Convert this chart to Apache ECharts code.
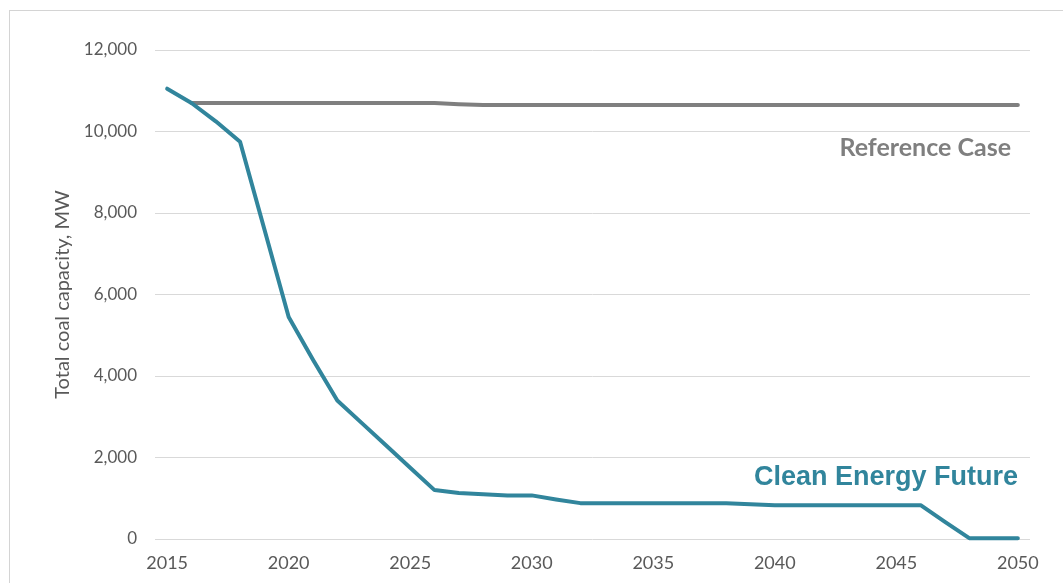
<!DOCTYPE html>
<html>
<head>
<meta charset="utf-8">
<script src="https://cdn.jsdelivr.net/npm/echarts@6/dist/echarts.min.js"></script>
<style>
  html, body { margin: 0; padding: 0; background: #ffffff; }
  #frame { position: absolute; left: 9px; top: 10px; width: 1054px; height: 573px;
           border-left: 1px solid #d4d4d4; border-top: 1px solid #d4d4d4; box-sizing: border-box; }
  #chart { position: absolute; left: 0; top: 0; width: 1063px; height: 583px; }
</style>
</head>
<body>
<div id="frame"></div>
<div id="chart"></div>
<script>
// Years on the horizontal axis
const years = [];
for (let y = 2015; y <= 2050; y++) years.push(String(y));

// Total coal capacity (MW), Clean Energy Future scenario
const cleanEnergyFuture = [
  11050, 10700, 10250, 9750, 7600, 5450, 4400, 3400, 2850, 2300,
  1750, 1200, 1130, 1100, 1070, 1070, 970, 880, 880, 880,
  880, 880, 880, 880, 850, 830, 830, 830, 830, 830,
  830, 830, 420, 20, 20, 20
];

// Total coal capacity (MW), Reference Case
const referenceCase = [
  null, 10700, 10700, 10700, 10700, 10700, 10700, 10700, 10700, 10700,
  10700, 10700, 10670, 10650, 10650, 10650, 10650, 10650, 10650, 10650,
  10650, 10650, 10650, 10650, 10650, 10650, 10650, 10650, 10650, 10650,
  10650, 10650, 10650, 10650, 10650, 10650
];

const yTicks = [0, 2000, 4000, 6000, 8000, 10000, 12000];

const chart = echarts.init(document.getElementById('chart'), null, { renderer: 'canvas' });

chart.setOption({
  backgroundColor: 'transparent',
  animation: false,
  grid: { left: 155, right: 33, top: 50, bottom: 44, containLabel: false },
  xAxis: {
    type: 'category',
    data: years,
    boundaryGap: true,
    axisLine: { show: false },
    axisTick: { show: false },
    axisLabel: {
      interval: 4,
      margin: 15,
      color: '#595959',
      fontFamily: 'Lato',
      fontSize: 18
    },
    splitLine: { show: false }
  },
  yAxis: {
    type: 'value',
    min: yTicks[0],
    max: yTicks[yTicks.length - 1],
    interval: 2000,
    name: 'Total coal capacity, MW',
    nameLocation: 'middle',
    nameGap: 82,
    nameRotate: 90,
    nameTextStyle: { color: '#595959', fontFamily: 'Lato', fontSize: 20 },
    axisLine: { show: false },
    axisTick: { show: false },
    axisLabel: {
      margin: 18,
      color: '#595959',
      fontFamily: 'Lato',
      fontSize: 17,
      formatter: v => v.toLocaleString('en-US')
    },
    splitLine: { lineStyle: { color: '#d9d9d9', width: 1 } }
  },
  series: [
    {
      name: 'Reference Case',
      type: 'line',
      data: referenceCase,
      symbol: 'none',
      connectNulls: false,
      lineStyle: { color: '#7f7f7f', width: 4, cap: 'round', join: 'round' },
      z: 2
    },
    {
      name: 'Clean Energy Future',
      type: 'line',
      data: cleanEnergyFuture,
      symbol: 'none',
      lineStyle: { color: '#31859c', width: 4, cap: 'round', join: 'round' },
      z: 3
    }
  ],
  graphic: [
    {
      type: 'text',
      right: 52,
      top: 135,
      style: {
        text: 'Reference Case',
        fill: '#7f7f7f',
        font: 'bold 25px Lato'
      }
    },
    {
      type: 'text',
      right: 45,
      top: 464,
      style: {
        text: 'Clean Energy Future',
        fill: '#31859c',
        font: 'bold 27px "Liberation Sans", Arial, sans-serif'
      }
    }
  ]
});
</script>
</body>
</html>
